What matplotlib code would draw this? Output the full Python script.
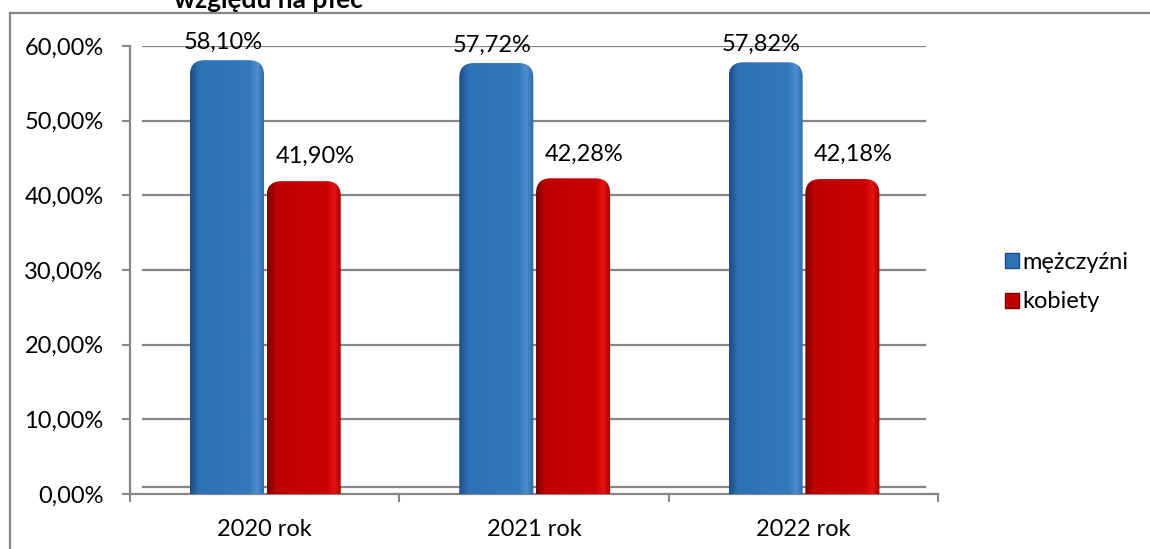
import numpy as np
import matplotlib.pyplot as plt
from matplotlib.patches import FancyBboxPatch, Patch
from matplotlib.colors import LinearSegmentedColormap
from matplotlib.lines import Line2D

plt.rcParams['font.family'] = ['Lato', 'DejaVu Sans']

# dane
lata = ['2020 rok', '2021 rok', '2022 rok']
mezczyzni = [58.10, 57.72, 57.82]
kobiety = [41.90, 42.28, 42.18]
serie = ['mężczyźni', 'kobiety']
tytul = 'względu na płeć'

W, H = 1150, 549
fig = plt.figure(figsize=(W / 100, H / 100), dpi=100)
ax = fig.add_axes([130 / W, 1 - 494 / H, 808 / W, (494 - 46) / H])

niebieski = LinearSegmentedColormap.from_list(
    'nb', [(0, '#1d4e86'), (0.12, '#2e72b5'), (0.8, '#3278bb'), (0.9, '#4d8ed0'), (1, '#2b6aa8')])
czerwony = LinearSegmentedColormap.from_list(
    'cz', [(0, '#7a0000'), (0.12, '#c00000'), (0.8, '#c80000'), (0.9, '#e41414'), (1, '#a80000')])

x = np.arange(len(lata))
szer = 0.275
b1 = ax.bar(x - 0.14, mezczyzni, szer, color='#2e72b5')
b2 = ax.bar(x + 0.145, kobiety, szer, color='#c00000')

# zaokraglone gorne rogi + gradient
r = 0.055
asp = 36
grad = np.linspace(0, 1, 100).reshape(1, -1)
for bars, cmap in [(b1, niebieski), (b2, czerwony)]:
    for b in bars:
        x0, w, h = b.get_x(), b.get_width(), b.get_height()
        b.set_visible(False)
        p = FancyBboxPatch((x0 + r, -5), w - 2 * r, h + 5 - r * asp,
                           boxstyle=f'round,pad={r}', mutation_aspect=asp,
                           fc='none', ec='none')
        ax.add_patch(p)
        im = ax.imshow(grad, cmap=cmap, extent=[x0, x0 + w, 0, h],
                       aspect='auto', zorder=3)
        im.set_clip_path(p)

# etykiety wartosci
for b, v in zip(b1, mezczyzni):
    ax.annotate(f'{v:.2f}%'.replace('.', ','), (b.get_x() + b.get_width() / 2, v),
                xytext=(-3, 5), textcoords='offset points', ha='center', va='bottom', fontsize=17)
for b, v in zip(b2, kobiety):
    ax.annotate(f'{v:.2f}%'.replace('.', ','), (b.get_x() + b.get_width() / 2, v),
                xytext=(8, 10), textcoords='offset points', ha='center', va='bottom', fontsize=17)

ax.set_xlim(-0.5, 2.5)
ax.set_ylim(0, 60)
ax.set_yticks(np.arange(0, 61, 10))
ax.set_yticklabels([f'{t:.2f}%'.replace('.', ',') for t in np.arange(0, 61, 10)], fontsize=17)
ax.set_xticks(x)
ax.set_xticklabels(lata, fontsize=17)
ax.set_xticks([-0.5, 0.5, 1.5, 2.5], minor=True)
ax.tick_params(axis='x', which='major', length=0, pad=18)
ax.tick_params(axis='x', which='minor', length=6, width=1.5, color='#868686')
ax.tick_params(axis='y', length=6, width=1.5, color='#868686', pad=13)

# linie siatki
for t in np.arange(10, 61, 10):
    ax.plot([0.016, 0.984], [t, t], transform=ax.get_yaxis_transform(),
            color='#868686', lw=1.6, zorder=1)
ax.plot([0.016, 0.984], [0.9, 0.9], transform=ax.get_yaxis_transform(),
        color='#868686', lw=1.6, zorder=1)

for s in ['top', 'right']:
    ax.spines[s].set_visible(False)
for s in ['left', 'bottom']:
    ax.spines[s].set_color('#868686')
    ax.spines[s].set_linewidth(1.6)

# legenda
uchwyty = [Patch(fc='#2e72b5', ec='#1d4e86'), Patch(fc='#c00000', ec='#7a0000')]
fig.legend(uchwyty, serie, loc='center left', bbox_to_anchor=(1005 / W, 1 - 282 / H),
           frameon=False, fontsize=17, handlelength=0.6, handleheight=0.6,
           handletextpad=0.15, labelspacing=0.8, borderpad=0, borderaxespad=0)

# ramka i obciety tytul (w oryginale tez uciety u gory)
fig.add_artist(Line2D([10 / W, 1], [1 - 13 / H, 1 - 13 / H], color='#868686', lw=1.6))
fig.add_artist(Line2D([10 / W, 10 / W], [0, 1 - 13 / H], color='#868686', lw=1.6))
fig.text(268 / W, 1 - 8 / H, tytul, ha='center', va='baseline', fontsize=19, weight='bold')

fig.savefig('out.png', dpi=100)
